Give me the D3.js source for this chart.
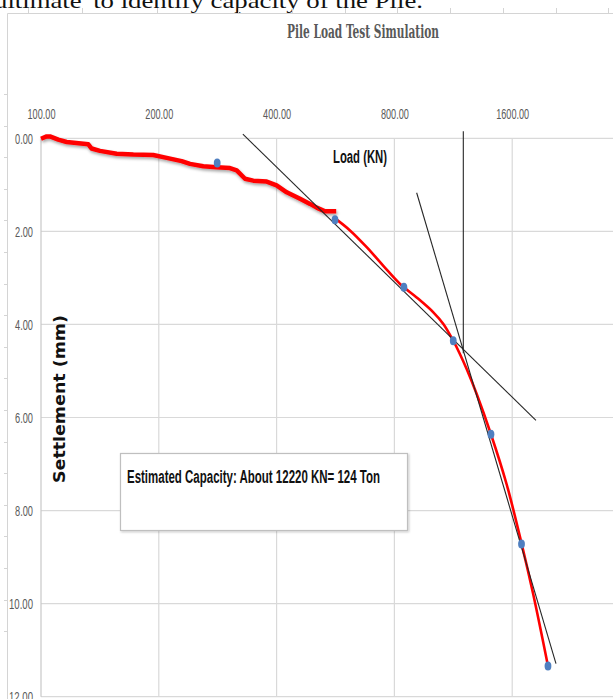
<!DOCTYPE html>
<html><head><meta charset="utf-8">
<script src="https://cdn.jsdelivr.net/npm/d3@7"></script>
<style>html,body{margin:0;padding:0;background:#fff;overflow:hidden}</style>
</head><body>
<script>
// ---- data ----
const xTicks = [100, 200, 400, 800, 1600];
const yTicks = [0, 2, 4, 6, 8, 10, 12];
const pointLoad = [282, 564, 846, 1131, 1412, 1690, 1975];
const pointSettle = [0.53, 1.75, 3.2, 4.35, 6.36, 8.72, 11.34];
// upper (thick) part of the measured curve
const curveLoadA = [100, 103.4, 105.4, 110.7, 116.3, 132.1, 134.7, 141.5, 156.1, 172.2, 193.6, 209.5, 228.8, 240.3, 259.9, 281.2, 304, 316.3, 332.2, 348.7, 377.4, 400, 424.5, 459.1, 487, 506.4, 531.8, 568];
const curveSettleA = [0.01, -0.04, -0.04, 0.03, 0.08, 0.13, 0.22, 0.27, 0.33, 0.35, 0.36, 0.42, 0.49, 0.55, 0.60, 0.62, 0.64, 0.69, 0.87, 0.91, 0.93, 1.01, 1.16, 1.30, 1.41, 1.49, 1.57, 1.57];
// lower (thin) part of the measured curve
const curveLoadB = [560, 616, 679.7, 749.5, 827, 912, 1006, 1067, 1131, 1177, 1224, 1299, 1412, 1549, 1692, 1812, 1975];
const curveSettleB = [1.70, 1.98, 2.34, 2.74, 3.13, 3.42, 3.74, 3.99, 4.35, 4.64, 4.96, 5.50, 6.36, 7.44, 8.72, 9.81, 11.34];
const tangent1Load = [328, 1840];
const tangent1Settle = [-0.09, 6.06];
const tangent2Load = [912, 2070];
const tangent2Settle = [1.17, 11.29];
const capacityLoad = [1200, 1200];
const capacitySettle = [-0.15, 4.62];
const titleText = "Pile Load Test Simulation";
const xTitle = "Load (KN)";
const yTitle = "Settlement (mm)";
const noteText = "Estimated Capacity: About 12220 KN= 124 Ton";
const docText = "ultimate' to identify capacity of the Pile.";

// ---- layout ----
const W = 613, H = 699;
const svg = d3.select("body").append("svg").attr("width", W).attr("height", H);
const defs = svg.append("defs");
const f = defs.append("filter").attr("id","sh").attr("x","-10%").attr("y","-10%").attr("width","130%").attr("height","150%");
f.append("feDropShadow").attr("dx",1).attr("dy",2).attr("stdDeviation",1.5).attr("flood-color","#000").attr("flood-opacity",0.35);
const f2 = defs.append("filter").attr("id","bsh").attr("x","-5%").attr("y","-5%").attr("width","112%").attr("height","120%");
f2.append("feDropShadow").attr("dx",1).attr("dy",1).attr("stdDeviation",1).attr("flood-color","#000").attr("flood-opacity",0.25);

const narrow = "'Liberation Sans Narrow','Arial Narrow','Liberation Sans',sans-serif";

// document text (cut off at top)
svg.append("text").attr("x", -6).attr("y", 8).attr("font-family","'Liberation Serif','Times New Roman',serif")
  .attr("font-size", 21).attr("fill","#111").attr("textLength", 429).attr("lengthAdjust","spacingAndGlyphs").text(docText);

// outer frame with ruler-like ticks
const frame = svg.append("g").attr("stroke","#d4d4d4").attr("stroke-width",1);
frame.append("line").attr("x1",7.5).attr("x2",W).attr("y1",13.5).attr("y2",13.5);
frame.append("line").attr("x1",7.5).attr("x2",7.5).attr("y1",13.5).attr("y2",H);
[28, 82, 157, 238, 292, 345, 397, 450, 503, 556, 608].forEach(x =>
  frame.append("line").attr("x1",x+0.5).attr("x2",x+0.5).attr("y1",8).attr("y2",13.5));
d3.range(0, 18).map(i => 94 + 31.6*i).forEach(y =>
  frame.append("line").attr("x1",4).attr("x2",7.5).attr("y1",Math.round(y)+0.5).attr("y2",Math.round(y)+0.5));

// scales
const x = d3.scaleLog().base(2).domain([100, 3200]).range([41, 41 + 5*117.8]);
const y = d3.scaleLinear().domain([0, 12]).range([138.3, 696.7]);

// gridlines
const grid = svg.append("g").attr("stroke","#d9d9d9").attr("stroke-width",1.2);
yTicks.forEach(v => grid.append("line").attr("x1", x(100)).attr("x2", W).attr("y1", y(v)).attr("y2", y(v)));
xTicks.slice(1).forEach(v => grid.append("line").attr("x1", x(v)).attr("x2", x(v)).attr("y1", y(0)).attr("y2", y(12)));
svg.append("line").attr("x1", x(100)).attr("x2", x(100)).attr("y1", y(0)).attr("y2", y(12)).attr("stroke","#c8c8c8").attr("stroke-width",1.2);

// axes (labels via d3 axis)
const xAxis = d3.axisTop(x).tickValues(xTicks).tickSize(0).tickFormat(d3.format(".2f"));
const gx = svg.append("g").attr("transform","translate(0,122)").call(xAxis);
gx.select(".domain").remove();
gx.selectAll("text").attr("font-family", narrow).attr("font-size", 14).attr("fill","#595959")
  .attr("textLength", d => d >= 1000 ? 33 : 28).attr("lengthAdjust","spacingAndGlyphs").attr("dy", 0);

const yAxis = d3.axisLeft(y).tickValues(yTicks).tickSize(0).tickFormat(d3.format(".2f"));
const gy = svg.append("g").attr("transform","translate(33,0)").call(yAxis);
gy.select(".domain").remove();
gy.selectAll("text").attr("font-family", narrow).attr("font-size", 14).attr("fill","#595959")
  .attr("x", 0).attr("dy", "0.35em")
  .attr("textLength", d => d >= 10 ? 24 : 18).attr("lengthAdjust","spacingAndGlyphs");

// title
svg.append("text").attr("x", 287).attr("y", 38).attr("font-family","'DejaVu Serif Condensed','Liberation Serif',serif")
  .attr("font-size", 19).attr("font-weight","bold").attr("fill","#595959")
  .attr("textLength", 152).attr("lengthAdjust","spacingAndGlyphs").text(titleText);

// axis titles
svg.append("text").attr("x", 333).attr("y", 163).attr("font-family", narrow).attr("font-size", 18).attr("font-weight","bold")
  .attr("fill","#111").attr("textLength", 54).attr("lengthAdjust","spacingAndGlyphs").text(xTitle);
svg.append("text").attr("transform","translate(65,483) rotate(-90)").attr("font-family","'DejaVu Sans',Verdana,sans-serif")
  .attr("font-size", 15).attr("font-weight","bold").attr("fill","#111")
  .attr("textLength", 168).attr("lengthAdjust","spacingAndGlyphs").text(yTitle);

// note box
const bx = 120, by = 453.5, bw = 287, bh = 77;
svg.append("rect").attr("x", bx+0.5).attr("y", by).attr("width", bw).attr("height", bh)
  .attr("fill","#fff").attr("stroke","#bfbfbf").attr("stroke-width",1.2).attr("filter","url(#bsh)");
svg.append("text").attr("x", 127).attr("y", 483).attr("font-family", narrow).attr("font-size", 18).attr("font-weight","bold")
  .attr("fill","#111").attr("textLength", 253).attr("lengthAdjust","spacingAndGlyphs").text(noteText);

// red curve
const line = d3.line().x(d => x(d[0])).y(d => y(d[1]));
svg.append("path").datum(curveLoadA.map((v,i) => [v, curveSettleA[i]])).attr("d", line).attr("fill","none").attr("stroke","#ff0000")
  .attr("stroke-width", 4.5).attr("stroke-linejoin","round").attr("stroke-linecap","butt").attr("filter","url(#sh)");
svg.append("path").datum(curveLoadB.map((v,i) => [v, curveSettleB[i]])).attr("d", line.curve(d3.curveCatmullRom)).attr("fill","none").attr("stroke","#ff0000")
  .attr("stroke-width", 2.6).attr("stroke-linejoin","round");
line.curve(d3.curveLinear);

// tangent & capacity lines
[[tangent1Load, tangent1Settle],[tangent2Load, tangent2Settle],[capacityLoad, capacitySettle]].forEach(([L,S]) => {
  svg.append("path").datum(L.map((v,i)=>[v,S[i]])).attr("d", line).attr("fill","none")
    .attr("stroke","#262626").attr("stroke-width",1.1);
});

// points
svg.append("g").selectAll("ellipse").data(pointLoad.map((v,i)=>[v, pointSettle[i]])).join("ellipse")
  .attr("cx", d => x(d[0])).attr("cy", d => y(d[1])).attr("rx", 3.4).attr("ry", 4.5)
  .attr("fill","#4f7fc0");
</script>
</body></html>
